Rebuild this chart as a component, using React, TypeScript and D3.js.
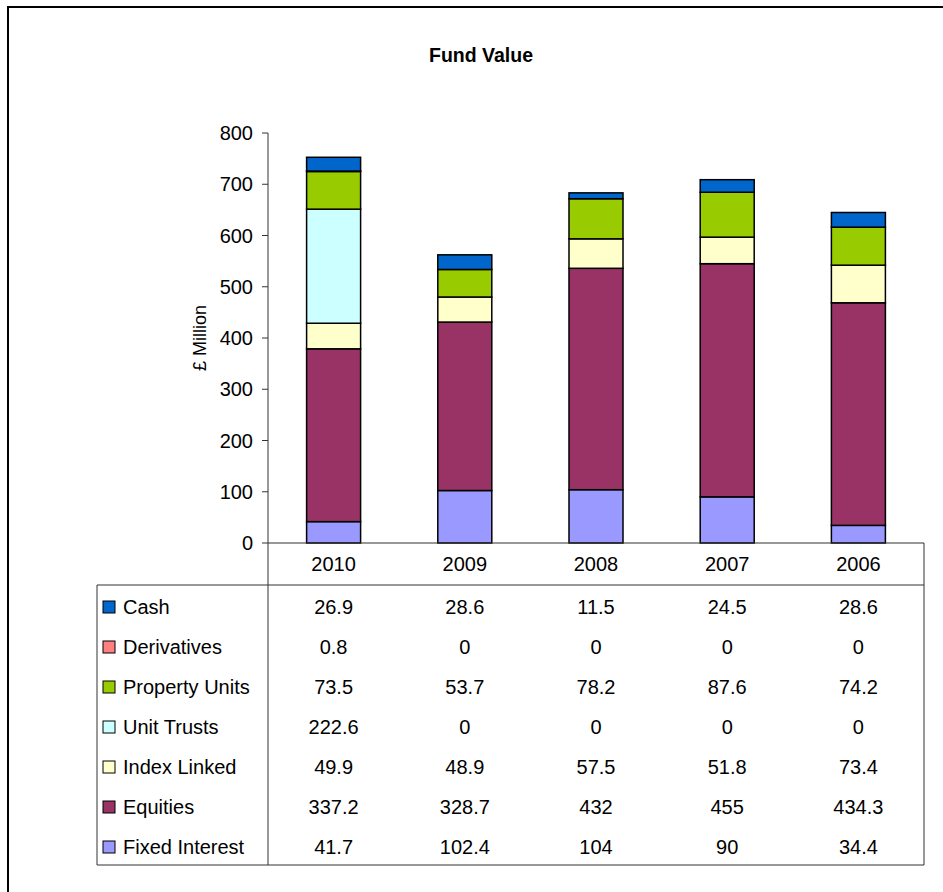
import * as d3 from 'd3'
import React, { useEffect, useRef } from 'react'

const years = ['2010', '2009', '2008', '2007', '2006']
// series listed bottom-of-stack first
const seriesNames = ['Fixed Interest', 'Equities', 'Index Linked', 'Unit Trusts', 'Property Units', 'Derivatives', 'Cash']
const fixedInterest = [41.7, 102.4, 104, 90, 34.4]
const equities = [337.2, 328.7, 432, 455, 434.3]
const indexLinked = [49.9, 48.9, 57.5, 51.8, 73.4]
const unitTrusts = [222.6, 0, 0, 0, 0]
const propertyUnits = [73.5, 53.7, 78.2, 87.6, 74.2]
const derivatives = [0.8, 0, 0, 0, 0]
const cash = [26.9, 28.6, 11.5, 24.5, 28.6]
const colors = ['#9999FF', '#993366', '#FFFFCC', '#CCFFFF', '#99CC00', '#FF8080', '#0066CC']
const yTicks = [0, 100, 200, 300, 400, 500, 600, 700, 800]

const FONT = '"Liberation Sans", Arial, sans-serif'

export default function App () {
  const ref = useRef<SVGSVGElement | null>(null)

  useEffect(() => {
    const width = 943; const height = 892
    const svg = d3.select(ref.current)
    svg.selectAll('*').remove()
    svg.attr('width', width).attr('height', height)

    const values = [fixedInterest, equities, indexLinked, unitTrusts, propertyUnits, derivatives, cash]
    const rows = years.map((y, i) => {
      const r: any = { year: y }
      seriesNames.forEach((s, k) => { r[s] = values[k][i] })
      return r
    })

    const left = 268; const right = 924
    const top = 133; const bottom = 543
    const tableLeft = 97; const headerBottom = 585; const rowH = 40

    // chart frame: only its left and top sides fall inside the window
    svg.append('rect').attr('width', width).attr('height', height).attr('fill', '#fff')
    svg.append('path').attr('d', `M8,${height}V7H${width}`)
      .attr('fill', 'none').attr('stroke', '#000').attr('stroke-width', 2)

    svg.append('text').attr('x', 481).attr('y', 62).attr('text-anchor', 'middle')
      .attr('font-family', FONT).attr('font-size', 19.5).attr('font-weight', 'bold')
      .text('Fund Value')

    const x = d3.scaleBand().domain(years).range([left, right])
    const y = d3.scaleLinear().domain([0, 800]).range([bottom, top])

    const stack = d3.stack().keys(seriesNames)
    const layers = stack(rows)
    const barW = 54

    svg.append('g').selectAll('g').data(layers).enter().append('g')
      .attr('fill', (d, i) => colors[i])
      .selectAll('rect').data(d => d).enter().append('rect')
      .filter(d => d[1] - d[0] > 0)
      .attr('x', d => (x(d.data.year as any) as number) + x.bandwidth() / 2 - barW / 2)
      .attr('y', d => y(d[1]))
      .attr('width', barW)
      .attr('height', d => y(d[0]) - y(d[1]))
      .attr('stroke', '#000').attr('stroke-width', 1.5)

    // y axis
    const axisColor = '#333'
    svg.append('line').attr('x1', left).attr('x2', left).attr('y1', top).attr('y2', 865)
      .attr('stroke', axisColor)
    svg.append('g').selectAll('line').data(yTicks).enter().append('line')
      .attr('x1', left - 6).attr('x2', left).attr('y1', d => y(d)).attr('y2', d => y(d))
      .attr('stroke', axisColor)
    svg.append('g').selectAll('text').data(yTicks).enter().append('text')
      .attr('x', left - 15).attr('y', d => y(d)).attr('dy', '0.35em')
      .attr('text-anchor', 'end').attr('font-family', FONT).attr('font-size', 20)
      .text(d => d)

    svg.append('text').attr('transform', 'translate(206,338) rotate(-90)')
      .attr('text-anchor', 'middle').attr('font-family', FONT).attr('font-size', 18)
      .text('£ Million')

    // data table
    const tbl = svg.append('g').attr('stroke', axisColor).attr('fill', 'none')
    tbl.append('line').attr('x1', left).attr('x2', right).attr('y1', bottom).attr('y2', bottom)
    tbl.append('line').attr('x1', right).attr('x2', right).attr('y1', bottom).attr('y2', 865)
    tbl.append('line').attr('x1', tableLeft).attr('x2', right).attr('y1', headerBottom).attr('y2', headerBottom)
    tbl.append('line').attr('x1', tableLeft).attr('x2', right).attr('y1', 865).attr('y2', 865)
    tbl.append('line').attr('x1', tableLeft).attr('x2', tableLeft).attr('y1', headerBottom).attr('y2', 865)

    svg.append('g').selectAll('text').data(years).enter().append('text')
      .attr('x', d => (x(d) as number) + x.bandwidth() / 2).attr('y', 564).attr('dy', '0.35em')
      .attr('text-anchor', 'middle').attr('font-family', FONT).attr('font-size', 20)
      .text(d => d)

    const tableOrder = seriesNames.map((s, k) => k).reverse()
    const rowG = svg.append('g').selectAll('g').data(tableOrder).enter().append('g')
      .attr('transform', (k, i) => `translate(0,${headerBottom + rowH * i + rowH / 2 + 2})`)
    rowG.append('rect').attr('x', 103).attr('y', -6).attr('width', 12).attr('height', 12)
      .attr('fill', k => colors[k]).attr('stroke', '#000').attr('stroke-width', 1)
    rowG.append('text').attr('x', 123).attr('dy', '0.35em')
      .attr('font-family', FONT).attr('font-size', 20).text(k => seriesNames[k])
    rowG.selectAll('text.v').data(k => values[k]).enter().append('text')
      .attr('class', 'v')
      .attr('x', (v, i) => (x(years[i]) as number) + x.bandwidth() / 2).attr('dy', '0.35em')
      .attr('text-anchor', 'middle').attr('font-family', FONT).attr('font-size', 20)
      .text(v => String(v))
  }, [])

  return (
    <div style={{ position: 'absolute', left: 0, top: 0, width: 943, height: 892, overflow: 'hidden' }}>
      <svg ref={ref} style={{ display: 'block' }} />
    </div>
  )
}
